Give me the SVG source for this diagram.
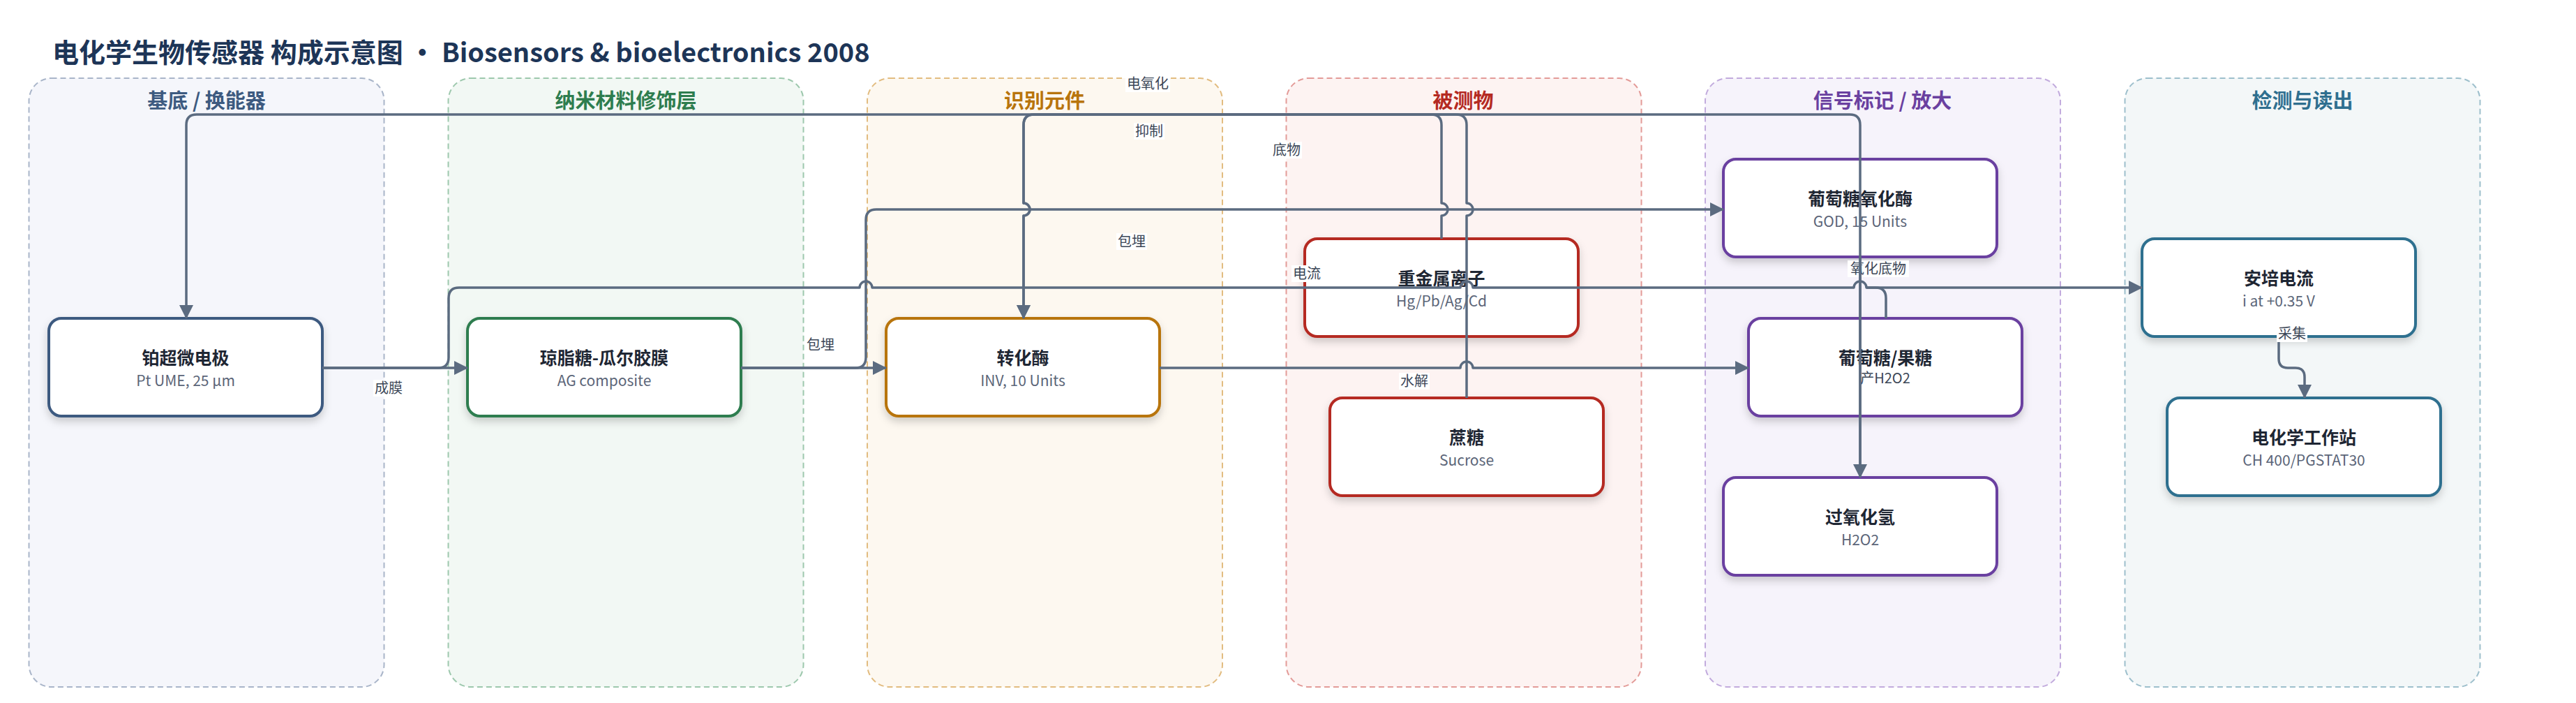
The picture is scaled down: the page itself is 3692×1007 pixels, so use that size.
<svg xmlns="http://www.w3.org/2000/svg" width="3692" height="1007" viewBox="0 0 3692 1007">
<defs>
<style>
.lane{stroke-width:2;stroke-dasharray:8 5}
.lt{font-family:"Noto Sans CJK SC","Noto Sans",sans-serif;font-size:29px;font-weight:700;text-anchor:middle}
.node{fill:#fff;stroke-width:4;filter:url(#sh)}
.nt{font-family:"Noto Sans CJK SC","Noto Sans",sans-serif;font-size:25px;font-weight:700;fill:#1e2633;text-anchor:middle}
.ns{font-family:"Noto Sans CJK SC","Noto Sans",sans-serif;font-size:21px;fill:#5b6578;text-anchor:middle}
.e{fill:none;stroke:#5b6b80;stroke-width:3.5;stroke-linejoin:round}
.ea{marker-end:url(#arr)}
.lb{fill:#fff}
.lx{font-family:"Noto Sans CJK SC","Noto Sans",sans-serif;font-size:20px;fill:#3c4757;text-anchor:middle}
</style>
<marker id="arr" markerUnits="userSpaceOnUse" markerWidth="20" markerHeight="20" refX="19" refY="10" orient="auto">
<path d="M0,0 L20,10 L0,20 z" fill="#5b6b80"/>
</marker>
<filter id="sh" x="-10%" y="-10%" width="120%" height="130%">
<feDropShadow dx="0" dy="6" stdDeviation="6" flood-color="#000" flood-opacity="0.18"/>
</filter>
</defs>
<rect width="3692" height="1007" fill="#fff"/>
<text x="75" y="89" font-family="'Noto Sans CJK SC','Noto Sans',sans-serif" font-size="38" font-weight="700" fill="#1d3557">电化学生物传感器 构成示意图 · Biosensors &amp; bioelectronics 2008</text>

<g id="lanes">
<g id="lane-substrate"><rect class="lane" x="41.5" y="112" width="509" height="872" rx="32" fill="#f5f6fb" stroke="#a9b5c9"/><text class="lt" x="296" y="155" fill="#3d5a80">基底 / 换能器</text></g>
<g id="lane-nano"><rect class="lane" x="642.5" y="112" width="509" height="872" rx="32" fill="#f2f8f4" stroke="#9dc8ad"/><text class="lt" x="897" y="155" fill="#2e7d4f">纳米材料修饰层</text></g>
<g id="lane-recog"><rect class="lane" x="1243" y="112" width="509" height="872" rx="32" fill="#fdf8f0" stroke="#e2bc80"/><text class="lt" x="1497" y="155" fill="#b8740c">识别元件</text></g>
<g id="lane-analyte"><rect class="lane" x="1843.5" y="112" width="509" height="872" rx="32" fill="#fdf3f2" stroke="#e39b98"/><text class="lt" x="2097" y="155" fill="#b52a22">被测物</text></g>
<g id="lane-signal"><rect class="lane" x="2444" y="112" width="509" height="872" rx="32" fill="#f6f3fb" stroke="#c2abdd"/><text class="lt" x="2698" y="155" fill="#6a40a0">信号标记 / 放大</text></g>
<g id="lane-detect"><rect class="lane" x="3045.5" y="112" width="509" height="872" rx="32" fill="#f3f7f8" stroke="#9dbfcc"/><text class="lt" x="3300" y="155" fill="#2f6f8f">检测与读出</text></g>
</g>

<g id="nodes">
<g id="n-pt"><rect class="node" x="70" y="456" width="392" height="140" rx="18" stroke="#3d5a80"/><text class="nt" x="266" y="522">铂超微电极</text><text class="ns" x="266" y="553">Pt UME, 25 µm</text></g>
<g id="n-ag"><rect class="node" x="670" y="456" width="392" height="140" rx="18" stroke="#2e7d4f"/><text class="nt" x="866" y="522">琼脂糖-瓜尔胶膜</text><text class="ns" x="866" y="553">AG composite</text></g>
<g id="n-inv"><rect class="node" x="1270" y="456" width="392" height="140" rx="18" stroke="#b8740c"/><text class="nt" x="1466" y="522">转化酶</text><text class="ns" x="1466" y="553">INV, 10 Units</text></g>
<g id="n-metal"><rect class="node" x="1870" y="342" width="392" height="140" rx="18" stroke="#b52a22"/><text class="nt" x="2066" y="408">重金属离子</text><text class="ns" x="2066" y="439">Hg/Pb/Ag/Cd</text></g>
<g id="n-sucrose"><rect class="node" x="1906" y="570" width="392" height="140" rx="18" stroke="#b52a22"/><text class="nt" x="2102" y="636">蔗糖</text><text class="ns" x="2102" y="667">Sucrose</text></g>
<g id="n-god"><rect class="node" x="2470" y="228" width="392" height="140" rx="18" stroke="#6a40a0"/><text class="nt" x="2666" y="294">葡萄糖氧化酶</text><text class="ns" x="2666" y="325">GOD, 15 Units</text></g>
<g id="n-glc"><rect class="node" x="2506" y="456" width="392" height="140" rx="18" stroke="#6a40a0"/><text class="nt" x="2702" y="522">葡萄糖/果糖</text></g>
<g id="n-h2o2"><rect class="node" x="2470" y="684" width="392" height="140" rx="18" stroke="#6a40a0"/><text class="nt" x="2666" y="750">过氧化氢</text><text class="ns" x="2666" y="781">H2O2</text></g>
<g id="n-amp"><rect class="node" x="3070" y="342" width="392" height="140" rx="18" stroke="#2f6f8f"/><text class="nt" x="3266" y="408">安培电流</text><text class="ns" x="3266" y="439">i at +0.35 V</text></g>
<g id="n-ws"><rect class="node" x="3106" y="570" width="392" height="140" rx="18" stroke="#2f6f8f"/><text class="nt" x="3302" y="636">电化学工作站</text><text class="ns" x="3302" y="667">CH 400/PGSTAT30</text></g>
</g>

<g id="connectors">
<path class="e ea" d="M462,527 H670"/>
<path class="e ea" d="M1062,527 H1270"/>
<path class="e ea" d="M1062,527 H1226 Q1241,527 1241,512 V315 Q1241,300 1256,300 H2470"/>
<path class="e ea" d="M2066,342 V309 A9,9 0 0 0 2066,291 V179 Q2066,164 2051,164 H1482 Q1467,164 1467,179 V291 A9,9 0 0 1 1467,309 V456"/>
<path class="e ea" d="M2102,570 V309 A9,9 0 0 0 2102,291 V179 Q2102,164 2087,164 H1482 Q1467,164 1467,179 V291 A9,9 0 0 1 1467,309 V456"/>
<path class="e ea" d="M1662,527 H2093 A9,9 0 0 1 2111,527 H2506"/>
<path class="e ea" d="M462,527 H628 Q643,527 643,512 V427 Q643,412 658,412 H1232 A9,9 0 0 1 1250,412 H2093 A9,9 0 0 1 2111,412 H2657 A9,9 0 0 1 2675,412 H3070"/>
<path class="e" d="M2703,456 V427 Q2703,412 2688,412 H2675"/>
<path class="e ea" d="M3266,482 V514 Q3266,527 3279,527 H3290 Q3303,527 3303,540 V570"/>
<g id="labels">
<rect class="lb" x="535" y="544" width="44" height="24"/><text class="lx" x="557" y="563">成膜</text>
<rect class="lb" x="1154" y="482" width="44" height="24"/><text class="lx" x="1176" y="501">包埋</text>
<rect class="lb" x="1600" y="334" width="44" height="24"/><text class="lx" x="1622" y="353">包埋</text>
<rect class="lb" x="1851" y="380" width="44" height="24"/><text class="lx" x="1873" y="399">电流</text>
<rect class="lb" x="2005" y="534" width="44" height="24"/><text class="lx" x="2027" y="553">水解</text>
<rect class="lb" x="1613" y="108" width="64" height="24"/><text class="lx" x="1645" y="127">电氧化</text>
<rect class="lb" x="1625" y="176" width="44" height="24"/><text class="lx" x="1647" y="195">抑制</text>
<rect class="lb" x="1822" y="203" width="44" height="24"/><text class="lx" x="1844" y="222">底物</text>
<rect class="lb" x="2648" y="373" width="88" height="24"/><text class="lx" x="2692" y="392">氧化底物</text>
<rect class="lb" x="2663" y="530" width="78" height="24"/><text class="lx" x="2702" y="549">产H2O2</text>
<rect class="lb" x="3263" y="467" width="44" height="23"/><text class="lx" x="3285" y="485">采集</text>
</g>
<path class="e ea" d="M2666,368 V684"/>
<path class="e ea" d="M2666,684 V179 Q2666,164 2651,164 H282 Q267,164 267,179 V456"/>
</g>
</svg>
